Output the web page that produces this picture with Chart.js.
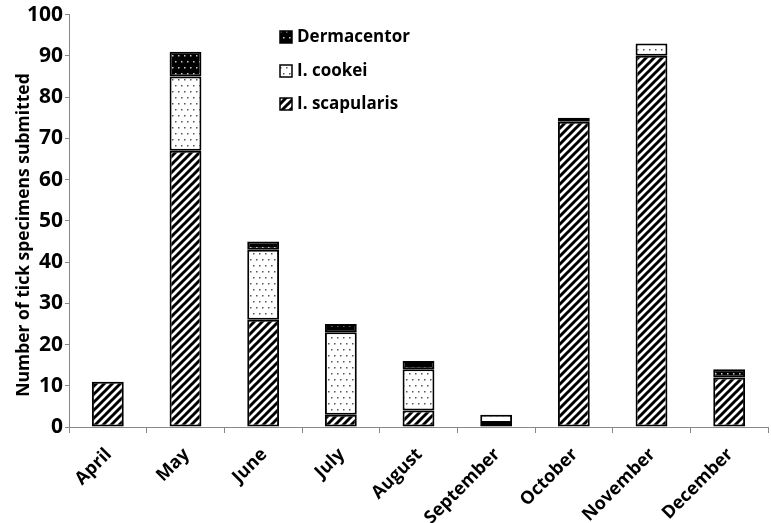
<!DOCTYPE html>
<html>
<head>
<meta charset="utf-8">
<script src="https://cdn.jsdelivr.net/npm/chart.js@4"></script>
<style>
html,body{margin:0;padding:0;background:#fff;}
#wrap{width:771px;height:523px;position:relative;}
</style>
</head>
<body>
<div id="wrap"><canvas id="c" width="771" height="523"></canvas></div>
<script>
const months = ["April","May","June","July","August","September","October","November","December"];
const scapularis = [11, 67, 26, 3, 4, 1, 74, 90, 12];
const cookei = [0, 18, 17, 20, 10, 2, 1, 3, 0];
const dermacentor = [0, 6, 2, 2, 2, 0, 0, 0, 2];
const seriesNames = ["I. scapularis", "I. cookei", "Dermacentor"];
const yTicks = [0,10,20,30,40,50,60,70,80,90,100];
const yTitle = "Number of tick specimens submitted";

const FONT = "'Open Sans', 'Noto Sans', sans-serif";

function makeTile(size, draw){
  const c = document.createElement('canvas');
  c.width = size; c.height = size;
  const x = c.getContext('2d');
  draw(x, size);
  return document.createElement('canvas').getContext('2d').createPattern(c, 'repeat');
}
const hatch = makeTile(8, (x, s) => {
  x.fillStyle = '#fff'; x.fillRect(0,0,s,s);
  x.strokeStyle = '#000'; x.lineWidth = 3; x.lineCap = 'square';
  x.beginPath();
  x.moveTo(-2, s+2); x.lineTo(s+2, -2);
  x.moveTo(-2-s, s+2); x.lineTo(2, -2);
  x.moveTo(s-2, s+2); x.lineTo(2*s+2, -2);
  x.stroke();
});
function dotTile(bg, fg){
  return makeTile(12, (x, s) => {
    x.fillStyle = bg; x.fillRect(0,0,s,s);
    x.fillStyle = fg;
    [[1,1],[7,1],[4,7],[10,7]].forEach(p => x.fillRect(p[0], p[1], 1.5, 1.5));
  });
}
const dots = dotTile('#fff', '#555');
const darkDots = dotTile('#000', '#ccc');

const fills = [hatch, dots, darkDots];

const legendPlugin = {
  id: 'innerLegend',
  afterDraw(chart){
    const ctx = chart.ctx;
    const items = [
      {name: seriesNames[2], fill: fills[2], y: 37},
      {name: seriesNames[1], fill: fills[1], y: 71},
      {name: seriesNames[0], fill: fills[0], y: 104}
    ];
    ctx.save();
    items.forEach(it => {
      ctx.fillStyle = it.fill;
      ctx.fillRect(280, it.y - 6, 12, 12);
      ctx.strokeStyle = '#000'; ctx.lineWidth = 1.5;
      ctx.strokeRect(280, it.y - 6, 12, 12);
      ctx.fillStyle = '#000';
      ctx.font = "bold 17px " + FONT;
      ctx.textBaseline = 'middle';
      ctx.textAlign = 'left';
      ctx.fillText(it.name, 297, it.y);
    });
    // y-axis title
    ctx.translate(24, 235);
    ctx.rotate(-Math.PI / 2);
    ctx.font = "bold 17.5px " + FONT;
    ctx.textAlign = 'center';
    ctx.fillText(yTitle, 0, 0);
    ctx.restore();
  }
};

function ds(label, data, fill){
  return {
    label, data,
    backgroundColor: fill,
    borderColor: '#000',
    borderWidth: c => (c.raw ? 2 : 0),
    borderSkipped: false,
    categoryPercentage: 1,
    barPercentage: 0.41
  };
}

new Chart(document.getElementById('c'), {
  type: 'bar',
  data: {
    labels: months,
    datasets: [
      ds(seriesNames[0], scapularis, fills[0]),
      ds(seriesNames[1], cookei, fills[1]),
      ds(seriesNames[2], dermacentor, fills[2])
    ]
  },
  options: {
    responsive: false,
    animation: false,
    layout: {padding: {top: 6, right: 3, left: 0, bottom: 0}},
    plugins: {legend: {display: false}, tooltip: {enabled: false}},
    scales: {
      x: {
        stacked: true,
        grid: {drawOnChartArea: false, offset: true, color: '#888', tickLength: 6},
        border: {color: '#888', width: 1},
        ticks: {
          color: '#000', font: {family: FONT, size: 18, weight: 'bold'},
          minRotation: 45, maxRotation: 45, padding: 11, labelOffset: 1
        },
        afterFit(s){ s.height = 96; }
      },
      y: {
        stacked: true,
        min: 0, max: 100,
        afterBuildTicks(s){ s.ticks = yTicks.map(v => ({value: v})); },
        grid: {drawOnChartArea: false, color: '#888', tickLength: 4},
        border: {color: '#888', width: 1},
        ticks: {color: '#000', font: {family: FONT, size: 21, weight: 'bold'}, padding: 2},
        title: {display: false, text: yTitle},
        afterFit(s){ s.width = 69; }
      }
    }
  },
  plugins: [legendPlugin]
});
</script>
</body>
</html>
